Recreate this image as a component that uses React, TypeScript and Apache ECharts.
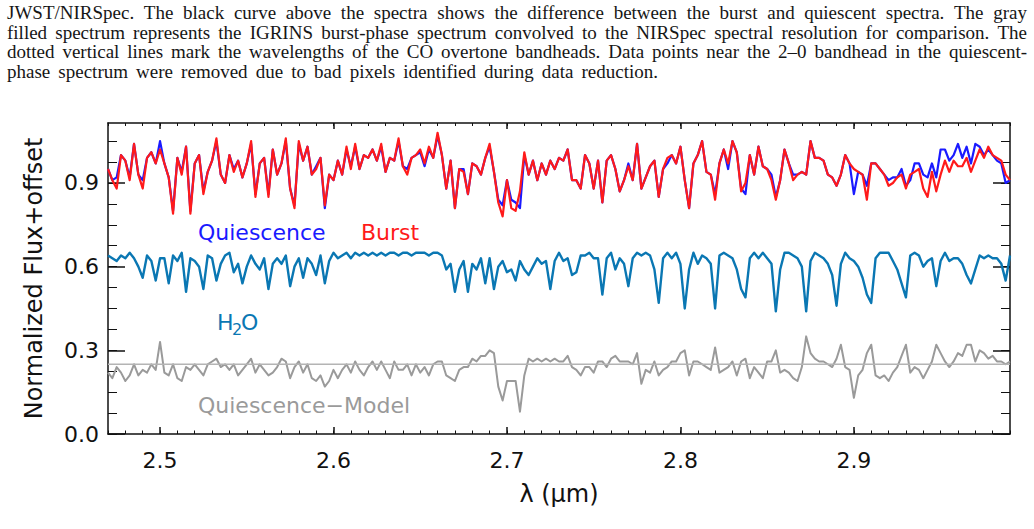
import { useEffect, useRef } from "react";
import * as echarts from "echarts";

// Spectra are sampled on a uniform wavelength grid (micron).
const LAMBDA_START = 2.47;
const LAMBDA_STEP = 0.0025;
const X_MIN = 2.47;
const X_MAX = 2.99;
const Y_MIN = 0;
const Y_MAX = 1.115;

const xMajorTicks = [2.5, 2.6, 2.7, 2.8, 2.9];
const yMajorTicks = [0, 0.3, 0.6, 0.9];
const X_MINOR_STEP = 0.01;
const Y_MINOR_STEP = 0.075;

// Burst-phase spectrum (offset)
const burst = [
  0.95, 0.91, 0.88, 1.0, 0.98, 0.91, 1.04, 0.93, 0.88, 0.99,
  1.01, 0.97, 1.02, 0.97, 0.92, 0.79, 0.99, 0.93, 1.03, 0.79,
  0.97, 1.0, 0.86, 0.94, 0.98, 1.06, 0.93, 0.9, 1.0, 0.94,
  0.98, 0.92, 0.97, 1.05, 0.85, 0.97, 0.99, 0.85, 1.02, 0.93,
  0.97, 1.06, 0.88, 0.81, 1.05, 0.98, 1.03, 0.93, 0.95, 0.99,
  0.82, 0.93, 0.91, 0.98, 0.93, 1.03, 0.95, 1.04, 0.95, 1.0,
  0.99, 1.02, 0.98, 1.04, 0.94, 0.99, 0.98, 1.06, 0.96, 0.93,
  0.99, 1.0, 1.02, 0.97, 1.03, 0.99, 1.08, 1.0, 0.88, 0.98,
  0.81, 0.95, 0.94, 0.86, 0.97, 0.96, 0.93, 0.99, 1.04, 0.94,
  0.83, 0.78, 0.91, 0.81, 0.8, 0.87, 1.01, 0.93, 0.98, 0.91,
  0.97, 0.93, 0.98, 0.95, 0.99,
  0.98, 1.02, 0.91, 0.91, 0.88, 1.0, 0.97, 0.88, 0.98, 0.83,
  0.98, 1.0, 0.95, 0.87, 0.91, 0.96, 0.91, 1.04, 0.88, 0.92,
  0.96, 0.98, 0.85, 0.95, 0.99, 1.0, 0.97, 1.03, 0.91, 0.81,
  0.97, 1.0, 1.05, 0.94, 0.93, 0.84, 0.97, 1.02, 0.97, 1.05,
  1.01, 0.87, 0.9, 1.0, 0.93, 1.03, 0.96, 0.95, 0.91, 0.84,
  0.91, 1.02, 0.97, 0.91, 0.93, 0.94, 0.93, 1.05, 0.99, 0.99,
  0.98, 0.93, 0.92, 0.89, 0.93, 1.0, 0.97, 0.95, 0.94, 0.93,
  0.84, 0.97, 0.97, 0.95, 0.93, 0.89, 0.9, 0.92, 0.93, 0.88,
  0.93, 0.94, 0.95, 0.88, 0.85, 0.94, 0.87, 0.93, 0.98, 0.94,
  0.98, 0.96, 0.96, 0.99, 0.94, 0.98, 1.02, 0.99, 1.03, 1.0,
  0.99, 0.98, 0.93, 0.91,
];

// Quiescent-phase spectrum (offset)
const quiescence = [
  0.95, 0.91, 0.92, 1.0, 0.98, 0.92, 1.04, 0.93, 0.91, 0.99,
  1.01, 0.97, 1.05, 0.97, 0.92, 0.8, 0.99, 0.94, 1.03, 0.8,
  0.97, 1.0, 0.87, 0.94, 0.98, 1.05, 0.93, 0.9, 1.0, 0.95,
  0.98, 0.92, 0.97, 1.04, 0.86, 0.97, 0.99, 0.86, 1.02, 0.93,
  0.97, 1.05, 0.88, 0.82, 1.04, 0.98, 1.03, 0.93, 0.96, 0.99,
  0.81, 0.93, 0.91, 0.98, 0.93, 1.02, 0.96, 1.03, 0.95, 1.0,
  0.99, 1.02, 0.98, 1.03, 0.94, 0.99, 0.98, 1.05, 0.96, 0.95,
  0.99, 1.0, 1.01, 0.96, 1.02, 0.99, 1.07, 1.0, 0.88, 0.98,
  0.81, 0.95, 0.95, 0.86, 0.97, 0.96, 0.93, 0.99, 1.03, 0.94,
  0.84, 0.82, 0.91, 0.84, 0.83, 0.81, 1.0, 0.93, 0.98, 0.91,
  0.97, 0.93, 0.98, 0.95, 0.99,
  0.98, 1.02, 0.91, 0.91, 0.88, 1.0, 0.97, 0.88, 0.98, 0.83,
  0.98, 1.0, 0.95, 0.87, 0.91, 0.97, 0.91, 1.04, 0.88, 0.92,
  0.96, 0.98, 0.85, 0.95, 0.97, 1.0, 0.97, 1.03, 0.91, 0.81,
  0.97, 1.0, 1.05, 0.94, 0.93, 0.86, 0.97, 1.02, 0.95, 1.05,
  1.01, 0.88, 0.86, 1.0, 0.93, 1.03, 0.96, 0.95, 0.93, 0.85,
  0.91, 1.02, 0.97, 0.93, 0.93, 0.94, 0.93, 1.05, 0.99, 0.99,
  0.98, 0.93, 0.92, 0.89, 0.93, 1.0, 0.97, 0.86, 0.94, 0.93,
  0.89, 0.97, 0.97, 0.95, 0.93, 0.91, 0.92, 0.92, 0.95, 0.89,
  0.91, 0.97, 0.97, 0.93, 0.92, 0.97, 0.92, 1.02, 1.02, 0.98,
  1.0, 1.04, 0.99, 1.03, 0.97, 1.04, 1.03, 1.0, 1.02, 1.0,
  0.98, 0.97, 0.9, 0.91,
];

// H2O template spectrum (offset)
const water = [
  0.64, 0.63, 0.62, 0.64, 0.63, 0.65, 0.63, 0.6, 0.56, 0.64,
  0.62, 0.55, 0.63, 0.63, 0.54, 0.64, 0.62, 0.65, 0.51, 0.63,
  0.62, 0.6, 0.52, 0.64, 0.63, 0.55, 0.61, 0.64, 0.65, 0.58,
  0.61, 0.54, 0.6, 0.64, 0.61, 0.59, 0.63, 0.52, 0.61, 0.63,
  0.61, 0.64, 0.53, 0.6, 0.63, 0.56, 0.63, 0.61, 0.57, 0.64,
  0.54, 0.62, 0.65, 0.63, 0.64, 0.65, 0.63, 0.65, 0.64, 0.65,
  0.64, 0.65, 0.64, 0.65, 0.64, 0.65, 0.65, 0.64, 0.65, 0.65,
  0.64, 0.65, 0.65, 0.65, 0.64, 0.65, 0.65, 0.64, 0.59, 0.61,
  0.51, 0.59, 0.62, 0.51, 0.61, 0.59, 0.63, 0.54, 0.63, 0.52,
  0.6, 0.62, 0.58, 0.59, 0.55, 0.62, 0.59, 0.57, 0.6, 0.63,
  0.61, 0.62, 0.52, 0.62, 0.65,
  0.62, 0.63, 0.57, 0.58, 0.64, 0.64, 0.65, 0.63, 0.63, 0.5,
  0.63, 0.65, 0.59, 0.63, 0.61, 0.53, 0.63, 0.65, 0.64, 0.65,
  0.64, 0.59, 0.47, 0.63, 0.65, 0.63, 0.65, 0.61, 0.45, 0.59,
  0.65, 0.61, 0.64, 0.63, 0.61, 0.45, 0.64, 0.65, 0.64, 0.63,
  0.59, 0.52, 0.49, 0.63, 0.65, 0.63, 0.65, 0.63, 0.61, 0.44,
  0.59, 0.65, 0.65, 0.64, 0.63, 0.6, 0.44, 0.62, 0.65, 0.64,
  0.63, 0.61, 0.57, 0.46, 0.61, 0.65, 0.63, 0.62, 0.6, 0.56,
  0.5, 0.47, 0.63, 0.65, 0.65, 0.65, 0.62, 0.59, 0.54, 0.49,
  0.64, 0.65, 0.64, 0.6, 0.62, 0.63, 0.53, 0.62, 0.65, 0.62,
  0.63, 0.63, 0.61, 0.57, 0.54, 0.59, 0.64, 0.63, 0.64, 0.63,
  0.63, 0.61, 0.55, 0.64,
];

// Quiescence minus model residual (offset)
const residual = [
  0.22, 0.2, 0.24, 0.22, 0.19, 0.21, 0.25, 0.21, 0.23, 0.22,
  0.25, 0.23, 0.33, 0.22, 0.21, 0.25, 0.2, 0.19, 0.24, 0.23,
  0.25, 0.23, 0.21, 0.25, 0.26, 0.27, 0.24, 0.25, 0.23, 0.25,
  0.21, 0.23, 0.25, 0.27, 0.22, 0.25, 0.23, 0.21, 0.22, 0.24,
  0.27, 0.26, 0.2, 0.24, 0.26, 0.22, 0.25, 0.2, 0.19, 0.21,
  0.17, 0.19, 0.23, 0.2, 0.23, 0.25, 0.22, 0.26, 0.23, 0.21,
  0.24, 0.26, 0.23, 0.26, 0.23, 0.2, 0.26, 0.23, 0.23, 0.25,
  0.21, 0.25, 0.22, 0.24, 0.21, 0.25, 0.26, 0.26, 0.21, 0.2,
  0.19, 0.23, 0.24, 0.24, 0.27, 0.26, 0.28, 0.28, 0.3, 0.29,
  0.17, 0.12, 0.19, 0.19, 0.19, 0.08, 0.21, 0.27, 0.26, 0.27,
  0.26, 0.27, 0.26, 0.27, 0.26,
  0.26, 0.28, 0.24, 0.23, 0.21, 0.24, 0.24, 0.22, 0.26, 0.26,
  0.24, 0.27, 0.28, 0.26, 0.26, 0.26, 0.25, 0.29, 0.18, 0.23,
  0.22, 0.26, 0.21, 0.23, 0.24, 0.26, 0.26, 0.29, 0.3, 0.21,
  0.26, 0.26, 0.25, 0.24, 0.23, 0.31, 0.22, 0.23, 0.24, 0.26,
  0.21, 0.26, 0.27, 0.2, 0.24, 0.22, 0.2, 0.26, 0.26, 0.3,
  0.22, 0.23, 0.22, 0.2, 0.19, 0.24, 0.35, 0.29, 0.27, 0.26,
  0.26, 0.25, 0.24, 0.27, 0.32, 0.24, 0.23, 0.13, 0.21, 0.23,
  0.29, 0.32, 0.21, 0.2, 0.21, 0.19, 0.22, 0.24, 0.28, 0.32,
  0.22, 0.24, 0.23, 0.2, 0.23, 0.26, 0.32, 0.29, 0.26, 0.24,
  0.26, 0.29, 0.28, 0.32, 0.32, 0.26, 0.3, 0.29, 0.27, 0.28,
  0.26, 0.26, 0.25, 0.26,
];

// Zero level of the residual curve
const RESIDUAL_LEVEL = 0.25;

const captionLines = [
  "JWST/NIRSpec.  The black curve above the spectra shows the difference between the burst and quiescent spectra.  The gray",
  "filled spectrum represents the IGRINS burst-phase spectrum convolved to the NIRSpec spectral resolution for comparison.  The",
  "dotted vertical lines mark the wavelengths of the CO overtone bandheads.  Data points near the 2–0 bandhead in the quiescent-",
  "phase spectrum were removed due to bad pixels identified during data reduction.",
];
// Right edge of each caption line (the paragraph is justified, the last line is shorter)
const captionRightEdges = [1027, 1027, 1027, 658];
const CAPTION_SIZE = 19;

const SANS = '"DejaVu Sans", "Noto Sans", sans-serif';
const SERIF = '"Liberation Serif", "DejaVu Serif", serif';
const INK = "#111111";
const WATER_COLOR = "#0a77b3";

const toPoints = (values: number[]) =>
  values.map((v, i) => [LAMBDA_START + i * LAMBDA_STEP, v]);

const stepTicks = (min: number, max: number, step: number) => {
  const out: number[] = [];
  const first = Math.ceil((min - 1e-9) / step);
  for (let k = first; k * step <= max + 1e-9; k++) out.push(+(k * step).toFixed(4));
  return out;
};

// Lay out the caption paragraph word by word so that each line is justified.
function captionElements(): any[] {
  const ctx = document.createElement("canvas").getContext("2d");
  if (!ctx) return [];
  const left = 7;
  const size = CAPTION_SIZE;
  ctx.font = `${size}px ${SERIF}`;
  const out: any[] = [];
  captionLines.forEach((line, li) => {
    const words = line.split(/\s+/);
    const widths = words.map((w) => ctx.measureText(w).width);
    const total = widths.reduce((a, b) => a + b, 0);
    const gap = (captionRightEdges[li] - left - total) / (words.length - 1);
    let x = left;
    words.forEach((w, wi) => {
      out.push({
        type: "text",
        x,
        y: 12.5 + li * 19.7,
        silent: true,
        style: {
          text: w,
          fontSize: size,
          fontFamily: SERIF,
          fill: "#161616",
          align: "left",
          verticalAlign: "middle",
          textAlign: "left",
          textVerticalAlign: "middle",
        },
      });
      x += widths[wi] + gap;
    });
  });
  return out;
}

const label = (text: string, x: number, y: number, color: string, size = 22) => ({
  type: "text",
  x,
  y,
  silent: true,
  style: {
    text,
    fontSize: size,
    fontFamily: SANS,
    fill: color,
    align: "left",
    verticalAlign: "middle",
    textAlign: "left",
    textVerticalAlign: "middle",
  },
});

export default function App() {
  const ref = useRef<HTMLDivElement>(null);

  useEffect(() => {
    if (!ref.current) return;
    const chart = echarts.init(ref.current, undefined, { renderer: "svg" });

    const axisLineStyle = { color: INK, width: 1.5 };
    const xMinor = stepTicks(X_MIN, X_MAX, X_MINOR_STEP);
    const yMinor = stepTicks(Y_MIN, Y_MAX, Y_MINOR_STEP);

    const xAxisCommon = {
      type: "value",
      min: X_MIN,
      max: X_MAX,
      splitLine: { show: false },
    };
    const yAxisCommon = {
      type: "value",
      min: Y_MIN,
      max: Y_MAX,
      splitLine: { show: false },
    };

    const line = (name: string, values: number[], color: string, width: number, z: number) => ({
      type: "line",
      name,
      data: toPoints(values),
      xAxisIndex: 0,
      yAxisIndex: 0,
      symbol: "none",
      showSymbol: false,
      silent: true,
      z,
      lineStyle: { color, width, join: "round" },
      itemStyle: { color },
      emphasis: { disabled: true },
    });

    chart.setOption({
      animation: false,
      backgroundColor: "#ffffff",
      textStyle: { fontFamily: SANS },
      grid: { left: 108, top: 123, width: 902, height: 311, containLabel: false },
      xAxis: [
        {
          ...xAxisCommon,
          position: "bottom",
          axisLine: { show: true, onZero: false, lineStyle: axisLineStyle },
          axisTick: { show: true, inside: true, length: 7, customValues: xMajorTicks, lineStyle: axisLineStyle },
          axisLabel: {
            show: true,
            customValues: xMajorTicks,
            formatter: (v: number) => v.toFixed(1),
            margin: 15,
            fontSize: 22,
            color: INK,
            fontFamily: SANS,
          },
          name: "λ (μm)",
          nameLocation: "middle",
          nameGap: 48,
          nameTextStyle: { fontSize: 24, color: INK, fontFamily: SANS },
        },
        {
          ...xAxisCommon,
          position: "bottom",
          axisLine: { show: false, onZero: false },
          axisTick: { show: true, inside: true, length: 3.5, customValues: xMinor, lineStyle: { color: INK, width: 1 } },
          axisLabel: { show: false },
        },
        {
          ...xAxisCommon,
          position: "top",
          axisLine: { show: true, onZero: false, lineStyle: axisLineStyle },
          axisTick: { show: true, inside: true, length: 6, customValues: xMajorTicks, lineStyle: axisLineStyle },
          axisLabel: { show: false },
        },
        {
          ...xAxisCommon,
          position: "top",
          axisLine: { show: false, onZero: false },
          axisTick: { show: true, inside: true, length: 3, customValues: xMinor, lineStyle: { color: INK, width: 1 } },
          axisLabel: { show: false },
        },
      ],
      yAxis: [
        {
          ...yAxisCommon,
          position: "left",
          axisLine: { show: true, onZero: false, lineStyle: axisLineStyle },
          axisTick: { show: true, inside: true, length: 17, customValues: yMajorTicks, lineStyle: axisLineStyle },
          axisLabel: {
            show: true,
            customValues: yMajorTicks,
            formatter: (v: number) => v.toFixed(1),
            margin: 9,
            fontSize: 22,
            color: INK,
            fontFamily: SANS,
          },
          name: "Normalized Flux+offset",
          nameLocation: "middle",
          nameRotate: 90,
          nameGap: 62,
          nameTextStyle: { fontSize: 24, color: INK, fontFamily: SANS },
        },
        {
          ...yAxisCommon,
          position: "left",
          axisLine: { show: false, onZero: false },
          axisTick: { show: true, inside: true, length: 9, customValues: yMinor, lineStyle: { color: INK, width: 1 } },
          axisLabel: { show: false },
        },
        {
          ...yAxisCommon,
          position: "right",
          axisLine: { show: true, onZero: false, lineStyle: axisLineStyle },
          axisTick: { show: true, inside: true, length: 17, customValues: yMajorTicks, lineStyle: axisLineStyle },
          axisLabel: { show: false },
        },
        {
          ...yAxisCommon,
          position: "right",
          axisLine: { show: false, onZero: false },
          axisTick: { show: true, inside: true, length: 9, customValues: yMinor, lineStyle: { color: INK, width: 1 } },
          axisLabel: { show: false },
        },
      ],
      series: [
        {
          type: "line",
          name: "Residual zero level",
          data: [
            [X_MIN, RESIDUAL_LEVEL],
            [X_MAX, RESIDUAL_LEVEL],
          ],
          symbol: "none",
          silent: true,
          z: 3,
          lineStyle: { color: "#b4b4b4", width: 1.5 },
          itemStyle: { color: "#b4b4b4" },
          emphasis: { disabled: true },
        },
        line("Quiescence−Model", residual, "#9a9a9a", 2, 2),
        line("H2O", water, WATER_COLOR, 2.4, 4),
        line("Quiescence", quiescence, "#1a1aff", 2.2, 5),
        line("Burst", burst, "#ff1a1a", 2.2, 6),
      ],
      graphic: [
        ...captionElements(),
        label("Quiescence", 198, 232, "#1a1aff"),
        label("Burst", 361, 232, "#ff1a1a"),
        // H2O with a lowered subscript
        label("H", 217, 322, WATER_COLOR),
        label("2", 232, 329, WATER_COLOR, 16),
        label("O", 241, 322, WATER_COLOR),
        label("Quiescence−Model", 198, 405, "#9a9a9a"),
      ],
    });

    return () => chart.dispose();
  }, []);

  return (
    <div
      ref={ref}
      style={{ position: "absolute", left: 0, top: 0, width: 1034, height: 529, background: "#fff" }}
    />
  );
}
